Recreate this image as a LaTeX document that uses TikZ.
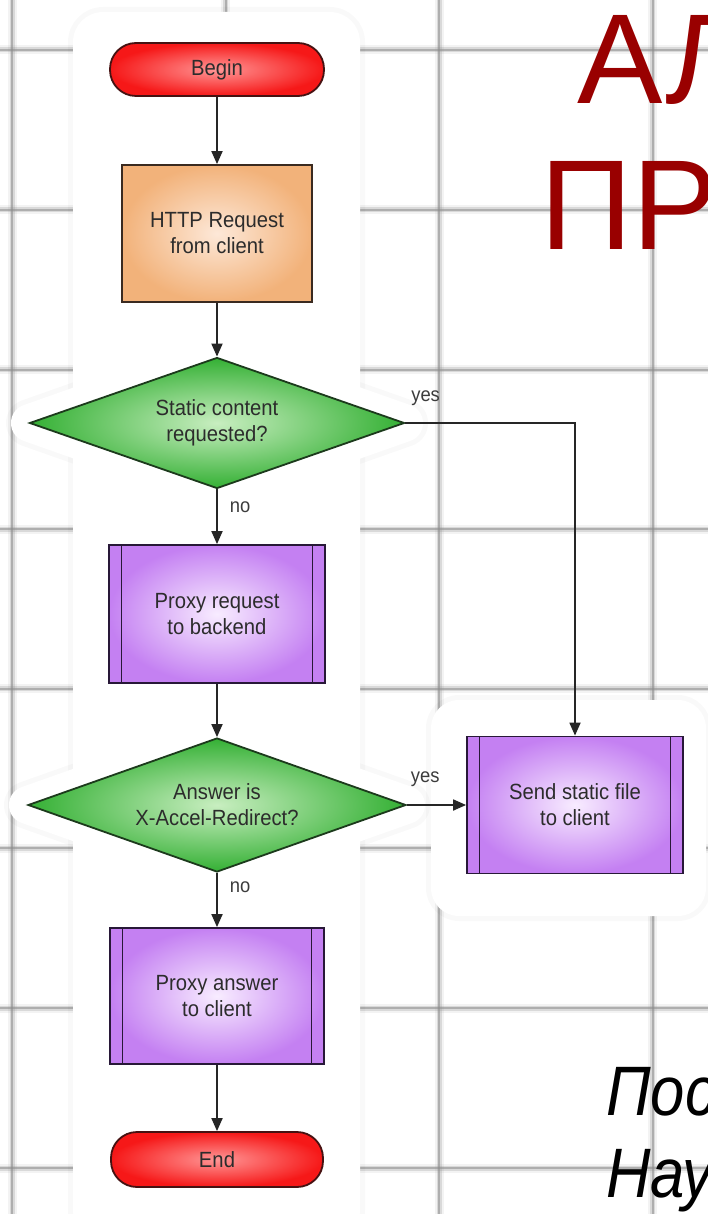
\documentclass[tikz,border=0pt]{standalone}
\usepackage{fontspec}
\setmainfont{Liberation Sans}
\newfontfamily\flowfont[FakeStretch=0.92]{Liberation Sans}
\newfontfamily\notefont[FakeStretch=0.88]{Liberation Sans Italic}
\usetikzlibrary{shapes.geometric,arrows.meta}

\definecolor{gridgray}{RGB}{140,140,140}
\definecolor{titlered}{RGB}{153,0,0}
\definecolor{inktext}{RGB}{44,44,44}
\definecolor{lbltext}{RGB}{60,60,60}
\definecolor{termout}{RGB}{246,24,24}
\definecolor{termin}{RGB}{255,150,150}
\definecolor{termline}{RGB}{70,18,18}
\definecolor{reqout}{RGB}{242,178,122}
\definecolor{reqin}{RGB}{253,232,216}
\definecolor{reqline}{RGB}{58,42,32}
\definecolor{decout}{RGB}{52,176,52}
\definecolor{decin}{RGB}{200,238,192}
\definecolor{decline}{RGB}{28,58,28}
\definecolor{procout}{RGB}{196,128,242}
\definecolor{procin}{RGB}{248,236,255}
\definecolor{procline}{RGB}{40,24,56}

\tikzset{
  gridhaze/.style={draw=gridgray, draw opacity=0.10, line width=9pt},
  gridsoft/.style={draw=gridgray, draw opacity=0.25, line width=5pt},
  gridcore/.style={draw=gridgray, draw opacity=0.55, line width=2pt},
  haloedge/.style={draw=black, draw opacity=0.025, line width=#1, line join=round},
  halofill/.style={draw=white, fill=white, line width=#1, line join=round},
  shapetext/.style={text=inktext, font=\flowfont\fontsize{22}{26}\selectfont, align=center, inner sep=0pt},
  terminal/.style={shapetext, rectangle, rounded corners=26pt, draw=termline, line width=1.8pt,
    inner color=termin, outer color=termout},
  request/.style={shapetext, rectangle, draw=reqline, line width=1.8pt,
    inner color=reqin, outer color=reqout},
  decision/.style={shapetext, diamond, aspect=2.86, draw=decline, line width=1.8pt,
    inner color=decin, outer color=decout},
  process/.style={shapetext, rectangle, draw=procline, line width=1.8pt,
    inner color=procin, outer color=procout,
    path picture={
      \draw[procline, line width=1.6pt]
        ([xshift=12.5pt]path picture bounding box.north west) -- ([xshift=12.5pt]path picture bounding box.south west)
        ([xshift=-12.5pt]path picture bounding box.north east) -- ([xshift=-12.5pt]path picture bounding box.south east);
    }},
  flow/.style={draw=black!85, line width=1.8pt, -{Triangle[length=13pt,width=11pt]}},
  branch/.style={text=lbltext, font=\flowfont\fontsize{20}{22}\selectfont, inner sep=0pt},
  title/.style={text=titlered, font=\fontsize{128}{147}\selectfont, inner sep=0pt},
  note/.style={text=black, font=\notefont\fontsize{70}{82}\selectfont, inner sep=0pt}
}

\begin{document}
\begin{tikzpicture}[x=1pt,y=-1pt]
\useasboundingbox (0,0) rectangle (708,1214);
\clip (0,0) rectangle (708,1214);
\fill[white] (0,0) rectangle (708,1214);

% graph-paper grid
\foreach \gx in {12,225.5,439,652.5} {
  \draw[gridhaze] (\gx,-10) -- (\gx,1224);
  \draw[gridsoft] (\gx,-10) -- (\gx,1224);
  \draw[gridcore] (\gx,-10) -- (\gx,1224);
}
\foreach \gy in {50,210,369.5,529,688.5,848,1008,1168} {
  \draw[gridhaze] (-10,\gy) -- (718,\gy);
  \draw[gridsoft] (-10,\gy) -- (718,\gy);
  \draw[gridcore] (-10,\gy) -- (718,\gy);
}

% soft white backing behind the flowchart
\draw[haloedge=10pt, rounded corners=30pt] (73,12) rectangle (360,1240);
\draw[haloedge=10pt, rounded corners=28pt] (431,700) rectangle (706,916);
\draw[haloedge=48pt] (30,423) -- (217,357) -- (404,423) -- (217,489) -- cycle;
\draw[haloedge=48pt] (28,805) -- (217,738) -- (406,805) -- (217,872) -- cycle;
\fill[white, rounded corners=30pt] (73,12) rectangle (360,1240);
\fill[white, rounded corners=28pt] (431,700) rectangle (706,916);
\draw[halofill=38pt] (30,423) -- (217,357) -- (404,423) -- (217,489) -- cycle;
\draw[halofill=38pt] (28,805) -- (217,738) -- (406,805) -- (217,872) -- cycle;

% flowchart nodes
\node[terminal, minimum width=214pt, minimum height=53pt] (begin) at (217,69.5) {Begin};
\node[request, minimum width=190pt, minimum height=137pt] (http) at (217,233.5) {HTTP Request\\from client};
\node[decision, minimum width=375pt, minimum height=131pt] (static) at (217,423) {Static content\\requested?};
\node[process, minimum width=216pt, minimum height=138pt] (proxyreq) at (217,614) {Proxy request\\to backend};
\node[decision, minimum width=378pt, minimum height=134pt] (accel) at (217,805) {Answer is\\X-Accel-Redirect?};
\node[process, minimum width=216pt, minimum height=137pt] (sendfile) at (575,805) {Send static file\\to client};
\node[process, minimum width=214pt, minimum height=136pt] (proxyans) at (217,996) {Proxy answer\\to client};
\node[terminal, minimum width=212pt, minimum height=55pt] (end) at (217,1159.5) {End};

% connectors
\draw[flow] (begin) -- (http);
\draw[flow] (http) -- (static);
\draw[flow] (static) -- node[branch, pos=0.33, anchor=west, xshift=12pt] {no} (proxyreq);
\draw[flow] (static.east) -| node[branch, pos=0, anchor=west, xshift=5pt, yshift=25pt] {yes} (sendfile.north);
\draw[flow] (proxyreq) -- (accel);
\draw[flow] (accel) -- node[branch, pos=0, anchor=west, xshift=3pt, yshift=26pt] {yes} (sendfile);
\draw[flow] (accel) -- node[branch, pos=0.27, anchor=west, xshift=12pt] {no} (proxyans);
\draw[flow] (proxyans) -- (end);

% slide heading and caption, running past the right edge
\node[title, anchor=base west] (head1) at (577,104) {АЛ};
\node[title, anchor=base west] (head2) at (540,250) {ПР};
\node[note, anchor=base west] (cap1) at (606,1115) {Пос};
\node[note, anchor=base west] (cap2) at (606,1197) {Нау};
\end{tikzpicture}
\end{document}
